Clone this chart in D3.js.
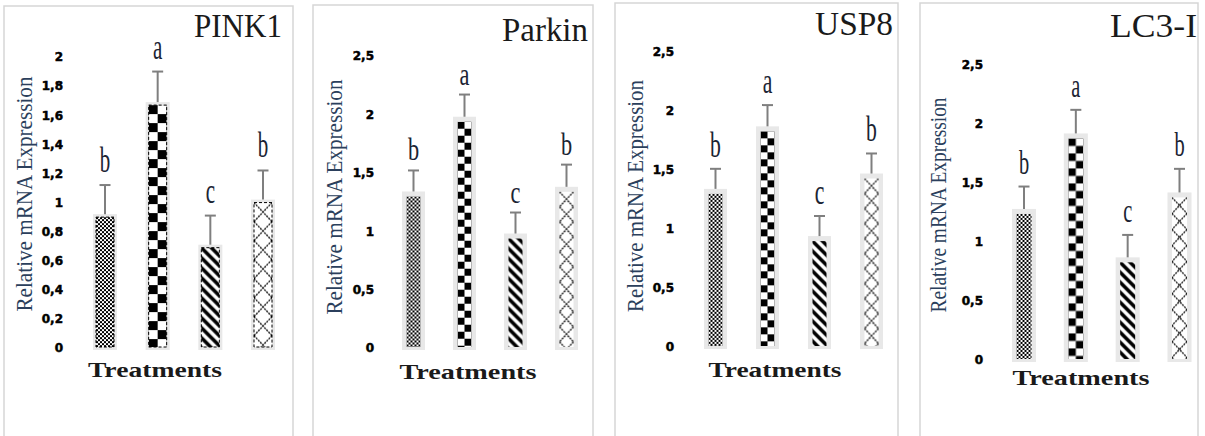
<!DOCTYPE html>
<html><head><meta charset="utf-8">
<script src="https://cdn.jsdelivr.net/npm/d3@7"></script>
<style>html,body{margin:0;padding:0;background:#fff;overflow:hidden}
.serif{font-family:"Liberation Serif","Times New Roman",Times,serif}
.tk{font-family:"DejaVu Sans",Verdana,sans-serif;font-weight:700}
</style>
</head><body><svg id="c" width="1205" height="436" xmlns="http://www.w3.org/2000/svg"></svg>
<script>
// ---------- data ----------
const treatments = ["T1", "T2", "T3", "T4"];
const genes = ["PINK1", "Parkin", "USP8", "LC3-I"];
const pink1Mean = [0.92, 1.69, 0.71, 1.02];
const pink1Err  = [0.20, 0.21, 0.20, 0.20];
const parkinMean = [1.34, 1.98, 0.98, 1.38];
const parkinErr  = [0.18, 0.19, 0.18, 0.19];
const usp8Mean = [1.34, 1.87, 0.94, 1.47];
const usp8Err  = [0.17, 0.18, 0.17, 0.17];
const lc3Mean = [1.28, 1.92, 0.87, 1.42];
const lc3Err  = [0.19, 0.20, 0.19, 0.20];
const letters = ["b", "a", "c", "b"];
const ticksPink1 = [0, 0.2, 0.4, 0.6, 0.8, 1, 1.2, 1.4, 1.6, 1.8, 2];
const ticksOther = [0, 0.5, 1, 1.5, 2, 2.5];
const yLabel = "Relative mRNA Expression";
const xLabel = "Treatments";

// ---------- layout ----------
const panels = [
  {gene: genes[0], mean: pink1Mean, err: pink1Err, ticks: ticksPink1, ymax: 2,
   box: [4, 6, 293], y0: 348, y1: 57, xc: [105, 263], tickX: 63,
   yl: {x: 32, cy: 194, len: 235}, xl: {x: 155, y: 377, len: 134},
   title: {r: 282, y: 37, len: 88}, lt: {gap: 13, size: 35, sx: 0.6},
   thin: true, bw: 24},
  {gene: genes[1], mean: parkinMean, err: parkinErr, ticks: ticksOther, ymax: 2.5,
   box: [313, 5, 593], y0: 348, y1: 56, xc: [413.5, 566.5], tickX: 374,
   yl: {x: 342, cy: 197, len: 235}, xl: {x: 468, y: 379, len: 137},
   title: {r: 588, y: 41, len: 86}, lt: {gap: 10, size: 31, sx: 0.72},
   thin: false, bw: 23},
  {gene: genes[2], mean: usp8Mean, err: usp8Err, ticks: ticksOther, ymax: 2.5,
   box: [615, 3, 898], y0: 347, y1: 52, xc: [715.5, 871.5], tickX: 674,
   yl: {x: 643, cy: 196, len: 232}, xl: {x: 775, y: 377, len: 133},
   title: {r: 893, y: 35, len: 78}, lt: {gap: 12, size: 35, sx: 0.62},
   thin: false, bw: 23},
  {gene: genes[3], mean: lc3Mean, err: lc3Err, ticks: ticksOther, ymax: 2.5,
   box: [920, 3, 1198], y0: 360, y1: 65, xc: [1024, 1179.5], tickX: 983,
   yl: {x: 946, cy: 205, len: 215}, xl: {x: 1081, y: 385, len: 137},
   title: {r: 1197, y: 37, len: 87}, lt: {gap: 13, size: 34, sx: 0.6},
   thin: false, bw: 24}
];

const svg = d3.select("#c");
const defs = svg.append("defs");
const fmt = v => String(v).replace(".", ",");

function makePattern(id, kind, x, y, w) {
  const p = defs.append("pattern").attr("id", id).attr("patternUnits", "userSpaceOnUse")
    .attr("x", x).attr("y", y);
  if (kind === 0) {
    p.attr("width", 4).attr("height", 4);
    p.append("rect").attr("width", 4).attr("height", 4).attr("fill", "#fff");
    p.append("rect").attr("width", 2).attr("height", 2).attr("fill", "#000");
    p.append("rect").attr("x", 2).attr("y", 2).attr("width", 2).attr("height", 2).attr("fill", "#000");
  } else if (kind === 1) {
    const s = w / 2;
    p.attr("width", 2 * s).attr("height", 2 * s);
    p.append("rect").attr("width", 2 * s).attr("height", 2 * s).attr("fill", "#fff");
    p.append("rect").attr("width", s).attr("height", s).attr("fill", "#000");
    p.append("rect").attr("x", s).attr("y", s).attr("width", s).attr("height", s).attr("fill", "#000");
  } else if (kind === 2) {
    p.attr("width", 10).attr("height", 10);
    p.append("rect").attr("width", 10).attr("height", 10).attr("fill", "#fff");
    p.append("path").attr("d", "M-3,-3 L13,13 M-3,7 L3,13 M7,-3 L13,3")
      .attr("stroke", "#000").attr("stroke-width", 3.6);
  } else {
    const h = w + 1;
    p.attr("width", w).attr("height", h);
    p.append("rect").attr("width", w).attr("height", h).attr("fill", "#fff");
    p.append("path").attr("d", `M0,0 L${w},${h} M${w},0 L0,${h}`)
      .attr("stroke", "#000").attr("stroke-width", 1.3).attr("stroke-dasharray", "2,1");
  }
}

panels.forEach((P, pi) => {
  const g = svg.append("g");
  g.append("path")
    .attr("d", `M${P.box[0]},440 V${P.box[1]} H${P.box[2]} V440`)
    .attr("fill", "none").attr("stroke", "#d6d6d6").attr("stroke-width", 1.5);

  const y = d3.scaleLinear().domain([0, P.ymax]).range([P.y0, P.y1]);
  const x = d3.scalePoint().domain(treatments).range(P.xc);

  g.selectAll("text.tk").data(P.ticks).join("text")
    .attr("class", "tk")
    .attr("x", P.tickX).attr("y", d => y(d)).attr("dy", "0.36em")
    .attr("text-anchor", "end")
    .attr("font-size", 12).attr("fill", "#000")
    .attr("stroke", "#000").attr("stroke-width", 0.5)
    .text(fmt);

  treatments.forEach((t, i) => {
    const v = P.mean[i], e = P.err[i];
    const cx = x(t), bw = P.bw;
    const top = y(v), base = y(0) + 2;
    g.append("rect").attr("x", cx - bw / 2).attr("y", top)
      .attr("width", bw).attr("height", base - top).attr("fill", "#e8e8e8");
    const ins = P.thin ? 3 : 4.5;
    const insT = P.thin ? 3 : 5;
    const ix = cx - bw / 2 + ins, iw = bw - 2 * ins;
    const iy = top + insT, ih = base - 3 - iy;
    const pid = `pat${pi}_${i}`;
    makePattern(pid, i, ix, iy, iw);
    const r = g.append("rect").attr("x", ix).attr("y", iy).attr("width", iw).attr("height", ih)
      .attr("fill", `url(#${pid})`);
    if (P.thin) r.attr("stroke", "#000").attr("stroke-width", 1).attr("stroke-dasharray", "3,2");

    const et = y(v + e);
    g.append("line").attr("x1", cx).attr("x2", cx).attr("y1", top).attr("y2", et)
      .attr("stroke", "#7f7f7f").attr("stroke-width", 2);
    g.append("line").attr("x1", cx - 5.5).attr("x2", cx + 5.5).attr("y1", et).attr("y2", et)
      .attr("stroke", "#7f7f7f").attr("stroke-width", 2);

    g.append("text").attr("class", "serif")
      .attr("transform", `translate(${cx},${et - P.lt.gap}) scale(${P.lt.sx},1)`)
      .attr("text-anchor", "middle")
      .attr("font-size", P.lt.size)
      .attr("fill", "#1b2433").text(letters[i]);
  });

  g.append("text").attr("class", "serif")
    .attr("transform", `translate(${P.yl.x},${P.yl.cy}) rotate(-90)`)
    .attr("text-anchor", "middle")
    .attr("font-size", 24)
    .attr("fill", "#2b3f5c")
    .attr("textLength", P.yl.len).attr("lengthAdjust", "spacingAndGlyphs")
    .text(yLabel);

  g.append("text").attr("class", "serif")
    .attr("x", P.xl.x).attr("y", P.xl.y).attr("text-anchor", "middle")
    .attr("font-weight", "bold").attr("font-size", 21)
    .attr("fill", "#1a1a1a")
    .attr("textLength", P.xl.len).attr("lengthAdjust", "spacingAndGlyphs")
    .text(xLabel);

  g.append("text").attr("class", "serif")
    .attr("x", P.title.r).attr("y", P.title.y).attr("text-anchor", "end")
    .attr("font-size", 33)
    .attr("fill", "#1a1a1a")
    .attr("textLength", P.title.len).attr("lengthAdjust", "spacingAndGlyphs")
    .text(P.gene);
});
</script>
</body></html>
